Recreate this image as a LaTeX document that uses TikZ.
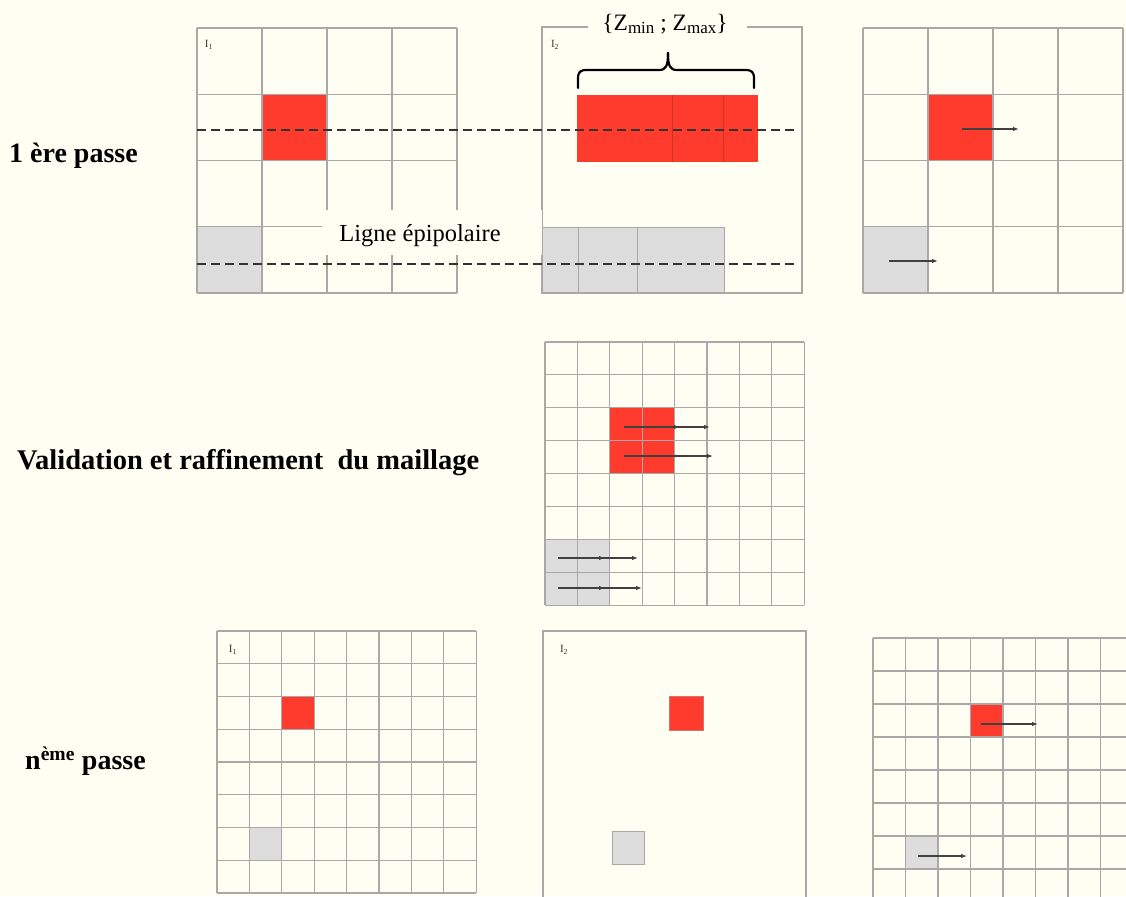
\documentclass[tikz,border=0pt]{standalone}
\usepackage{fontspec}
\setmainfont{Liberation Serif}
\usetikzlibrary{arrows.meta}
\definecolor{bg}{HTML}{FFFEF3}
\definecolor{gridc}{HTML}{A8A8A8}
\definecolor{redc}{HTML}{FF3B2E}
\definecolor{redline}{HTML}{C8342A}
\definecolor{grayc}{HTML}{DDDDDD}
\newcommand{\cellgrid}[6]{%
  \foreach \k in {0,...,#3} \draw[gridline] ({#1+\k*#5},#2) -- ({#1+\k*#5},{#2+#4*#6});
  \foreach \k in {0,...,#4} \draw[gridline] (#1,{#2+\k*#6}) -- ({#1+#3*#5},{#2+\k*#6});
}
\tikzset{
  gridline/.style={draw=gridc, line width=1.1pt},
  epi/.style={draw=black!80, line width=1.6pt, dash pattern=on 9pt off 5pt},
  shiftarrow/.style={draw=black!75, line width=1.1pt, -{Latex[length=6pt,width=4.5pt]}},
  rowtitle/.style={font=\fontsize{28}{30}\selectfont\bfseries, anchor=west, inner sep=0pt},
  imlabel/.style={font=\fontsize{11}{12}\selectfont, inner sep=0pt, text=black!80},
  bracestyle/.style={draw=black, line width=2.2pt, line cap=round},
}
\begin{document}
\begin{tikzpicture}[x=1pt,y=-1pt]
\useasboundingbox (0,0) rectangle (1126,896);
\fill[bg] (0,0) rectangle (1126,896);
\begin{scope}
\clip (0,0) rectangle (1126,896);

% ---------- top-left grid (I1, 1st pass)
\fill[redc] (262,94.25) rectangle ++(65,66.25);
\fill[grayc] (197,226.75) rectangle ++(65,66.25);
\cellgrid{197}{28}{4}{4}{65}{66.25}

% ---------- top-middle frame (I2)
\fill[redc] (577,95) rectangle (758,162);
\draw[redline, line width=0.6pt] (672,95) -- (672,162) (723,95) -- (723,162);
\fill[grayc] (542,227) rectangle (724,293);
\draw[gridc, line width=1pt] (542,227) rectangle (724,293);
\draw[gridc, line width=0.6pt] (578,227) -- (578,293) (637,227) -- (637,293);
\draw[gridline] (588,27) -- (542,27) -- (542,293) -- (802,293) -- (802,27) -- (747,27);

% ---------- top-right grid
\fill[redc] (928,94.25) rectangle ++(65,66.25);
\fill[grayc] (863,226.75) rectangle ++(65,66.25);
\cellgrid{863}{28}{4}{4}{65}{66.25}

% label cover and text
\fill[bg] (322,210) rectangle (542,255);
\node[font=\fontsize{24.5}{26}\selectfont, inner sep=0pt] (ligne) at (420,236) {Ligne épipolaire};

% epipolar lines
\coordinate (e1a) at (197,130);
\coordinate (e1b) at (795,130);
\coordinate (e2a) at (197,264);
\coordinate (e2b) at (795,264);
\draw[epi] (e1a) -- (e1b);
\draw[epi] (e2a) -- (e2b);

% brace
\draw[bracestyle] (578,88) -- (578,79) .. controls (578,72) and (580,70) .. (587,70)
  -- (659,70) .. controls (666,70) and (668,66) .. (668,53);
\draw[bracestyle] (668,53) .. controls (668,66) and (670,70) .. (677,70)
  -- (745,70) .. controls (752,70) and (754,72) .. (754,79) -- (754,88);
\node[font=\fontsize{23.5}{25}\selectfont, inner sep=0pt] (zlab) at (665,24)
  {\{Z\raisebox{-0.35ex}{\fontsize{17}{17}\selectfont min} ; Z\raisebox{-0.35ex}{\fontsize{17}{17}\selectfont max}\}};

\node[imlabel] (i1a) at (209,45) {I\textsubscript{1}};
\node[imlabel] (i2a) at (555,45) {I\textsubscript{2}};

% arrows top-right
\coordinate (t1s) at (962,129);
\coordinate (t1e) at (1019,129);
\coordinate (t2s) at (889,261);
\coordinate (t2e) at (938,261);
\draw[shiftarrow] (t1s) -- (t1e);
\draw[shiftarrow] (t2s) -- (t2e);

% ---------- middle grid (validation)
\fill[redc] (609.8,407.8) rectangle ++(64.8,65.8);
\fill[grayc] (545,539.6) rectangle ++(64.8,65.8);
\cellgrid{545}{342}{8}{8}{32.4}{32.9}
\coordinate (m1s) at (624,427);
\coordinate (m1a) at (680,427);
\coordinate (m1b) at (710,427);
\coordinate (m2s) at (624,456);
\coordinate (m2a) at (679,456);
\coordinate (m2b) at (713,456);
\coordinate (m3s) at (558,558);
\coordinate (m3a) at (605,558);
\coordinate (m3b) at (638,558);
\coordinate (m4s) at (558,588);
\coordinate (m4a) at (605,588);
\coordinate (m4b) at (642,588);
\draw[shiftarrow] (m1s) -- (m1b);
\draw[shiftarrow] (m1s) -- (m1a);
\draw[shiftarrow] (m2s) -- (m2b);
\draw[shiftarrow, -{Latex[length=4pt,width=3pt]}] (m2s) -- (m2a);
\draw[shiftarrow] (m3s) -- (m3b);
\draw[shiftarrow] (m3s) -- (m3a);
\draw[shiftarrow] (m4s) -- (m4b);
\draw[shiftarrow] (m4s) -- (m4a);

% ---------- bottom-left grid (nth pass, I1)
\fill[redc] (281.8,696.5) rectangle ++(32.4,32.75);
\fill[grayc] (249.4,827.5) rectangle ++(32.4,32.75);
\cellgrid{217}{631}{8}{8}{32.4}{32.75}
\node[imlabel] (i1b) at (233,650) {I\textsubscript{1}};

% ---------- bottom-middle frame (I2)
\draw[gridline] (543,910) -- (543,631) -- (806,631) -- (806,910);
\draw[fill=redc, draw=redline!70, line width=0.8pt] (669,696) rectangle (703,730);
\draw[fill=grayc, draw=gridc, line width=1pt] (612,831) rectangle (644,864);
\node[imlabel] (i2b) at (564,650) {I\textsubscript{2}};

% ---------- bottom-right grid
\fill[redc] (970.5,704) rectangle ++(32.5,33);
\fill[grayc] (905.5,836) rectangle ++(32.5,33);
\cellgrid{873}{638}{8}{8}{32.5}{33}
\coordinate (b1s) at (981,724);
\coordinate (b1e) at (1038,724);
\coordinate (b2s) at (918,856);
\coordinate (b2e) at (967,856);
\draw[shiftarrow] (b1s) -- (b1e);
\draw[shiftarrow] (b2s) -- (b2e);
\end{scope}

% ---------- row titles
\node[rowtitle] (t1) at (9,156) {1 ère passe};
\node[rowtitle, font=\fontsize{28.5}{30}\selectfont\bfseries] (t2) at (17,463) {Validation et raffinement\ \ du maillage};
\node[rowtitle] (t3) at (25,761) {n\textsuperscript{ème} passe};
\end{tikzpicture}
\end{document}
